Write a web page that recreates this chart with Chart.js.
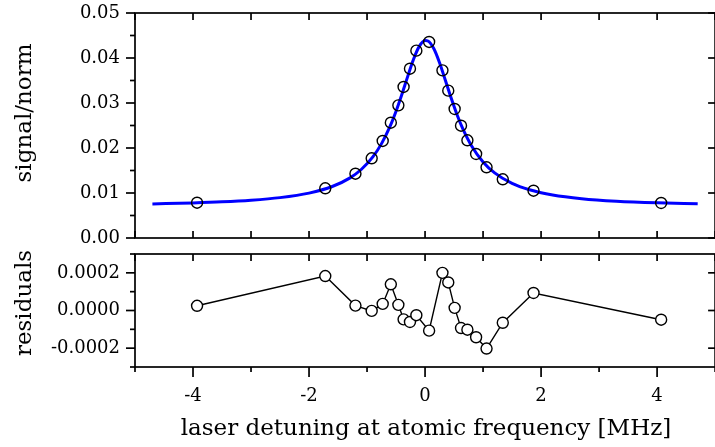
<!DOCTYPE html>
<html>
<head>
<meta charset="utf-8">
<script src="https://cdn.jsdelivr.net/npm/chart.js@4.4.1/dist/chart.umd.min.js"></script>
<style>
  html, body { margin: 0; padding: 0; background: #fff; overflow: hidden; width: 715px; height: 447px; }
  canvas { position: absolute; left: 0; }
  #topChart { top: 0; }
  #resChart { top: 246px; }
</style>
</head>
<body>
<canvas id="topChart" width="722" height="246"></canvas>
<canvas id="resChart" width="722" height="201"></canvas>
<script>
// measured points
const detuning = [-3.93, -1.72, -1.20, -0.92, -0.73, -0.59, -0.46, -0.37, -0.26, -0.15, 0.07,
  0.30, 0.40, 0.51, 0.62, 0.73, 0.88, 1.06, 1.34, 1.87, 4.07];
const signal = [0.00784, 0.01104, 0.01429, 0.01771, 0.02156, 0.02562, 0.02948, 0.03356, 0.03762, 0.04163, 0.04356,
  0.03726, 0.03274, 0.02867, 0.02496, 0.02171, 0.01867, 0.01571, 0.01304, 0.01051, 0.00778];
const residuals = [0.000025, 0.000183, 0.000026, -0.000002, 0.000035, 0.000139, 0.000030, -0.000047, -0.000061, -0.000025, -0.000107,
  0.000200, 0.000149, 0.000014, -0.000093, -0.000102, -0.000142, -0.000202, -0.000065, 0.000093, -0.000049];

// fit curve
const fitX = [-4.7, -4, -3.5, -3, -2.5, -2, -1.6, -1.3, -1.1, -0.9, -0.75, -0.6, -0.5, -0.4, -0.3, -0.2, -0.1, 0,
  0.05, 0.15, 0.25, 0.35, 0.45, 0.55, 0.65, 0.8, 1.0, 1.2, 1.5, 1.8, 2.2, 2.7, 3.3, 4, 4.7];
const fitY = [0.00758, 0.00780, 0.00803, 0.00839, 0.00897, 0.00998, 0.01144, 0.01331, 0.01522, 0.01803, 0.02097, 0.02490, 0.02816, 0.03188, 0.03586, 0.03966, 0.04258, 0.04388,
  0.04377, 0.04210, 0.03895, 0.03506, 0.03110, 0.02746, 0.02431, 0.02052, 0.01691, 0.01447, 0.01213, 0.01071, 0.00956, 0.00874, 0.00818, 0.00781, 0.00759];

// ticks
const xMajor = [-4, -2, 0, 2, 4];
const xMinor = [-5, -3, -1, 1, 3, 5];
const xTickLabels = ['-4', '-2', '0', '2', '4'];
const sigMajor = [0, 0.01, 0.02, 0.03, 0.04, 0.05];
const sigMinor = [0.005, 0.015, 0.025, 0.035, 0.045];
const sigTickLabels = ['0.00', '0.01', '0.02', '0.03', '0.04', '0.05'];
const resMajor = [-0.0002, 0, 0.0002];
const resMinor = [-0.0003, -0.0001, 0.0001, 0.0003];
const resTickLabels = ['-0.0002', '0.0000', '0.0002'];

Chart.defaults.font.family = "'DejaVu Serif', serif";
Chart.defaults.color = '#000';

const tickFont = { size: 18 };
const titleFont = "23px 'DejaVu Serif', serif";

// box, tick marks and axis titles
const frame = {
  id: 'frame',
  afterDraw(chart, args, o) {
    const { ctx, chartArea: a, scales } = chart;
    ctx.save();
    ctx.strokeStyle = '#000';
    ctx.lineWidth = 1.7;
    ctx.strokeRect(a.left, a.top, a.right - a.left, a.bottom - a.top);
    const line = (x1, y1, x2, y2) => {
      ctx.beginPath(); ctx.moveTo(x1, y1); ctx.lineTo(x2, y2); ctx.stroke();
    };
    o.yMajor.forEach(v => {
      const y = scales.y.getPixelForValue(v);
      line(a.left - 9, y, a.left, y);
      line(a.right - 7, y, a.right, y);
    });
    o.yMinor.forEach(v => {
      const y = scales.y.getPixelForValue(v);
      line(a.left - 5, y, a.left, y);
    });
    xMajor.concat(xMinor).forEach(v => {
      const x = scales.x.getPixelForValue(v);
      line(x, a.top, x, a.top + 7);
      if (o.bottomOut) line(x, a.bottom, x, a.bottom + (xMajor.includes(v) ? 10 : 5));
      else line(x, a.bottom - 7, x, a.bottom);
    });
    ctx.fillStyle = '#000';
    ctx.font = titleFont;
    ctx.textAlign = 'center';
    ctx.textBaseline = 'middle';
    o.titles.forEach(t => {
      ctx.save();
      ctx.translate(t.x, t.y);
      if (t.rotate) ctx.rotate(-Math.PI / 2);
      ctx.fillText(t.text, 0, 0);
      ctx.restore();
    });
    ctx.restore();
  }
};

const yAxis = (min, max, ticks, labels) => ({
  type: 'linear',
  min: min,
  max: max,
  afterBuildTicks: s => { s.ticks = ticks.map(v => ({ value: v })); },
  afterFit: s => { s.width = 135; s.paddingTop = 0; s.paddingBottom = 0; },
  ticks: { font: tickFont, padding: 15, callback: (v, i) => labels[i] },
  grid: { display: false, drawTicks: false },
  border: { display: false }
});

new Chart(document.getElementById('topChart'), {
  type: 'scatter',
  data: {
    datasets: [
      {
        data: detuning.map((x, i) => ({ x: x, y: signal[i] })),
        pointRadius: 5.5,
        pointBorderWidth: 1.4,
        pointBorderColor: '#000',
        pointBackgroundColor: 'rgba(0,0,0,0)'
      },
      {
        data: fitX.map((x, i) => ({ x: x, y: fitY[i] })),
        showLine: true,
        pointRadius: 0,
        borderColor: '#0000ff',
        borderWidth: 3,
        cubicInterpolationMode: 'monotone'
      }
    ]
  },
  options: {
    responsive: false,
    animation: false,
    layout: { padding: { top: 13, right: 1, bottom: 8, left: 0 } },
    plugins: {
      legend: { display: false },
      tooltip: { enabled: false },
      frame: {
        yMajor: sigMajor, yMinor: sigMinor, bottomOut: false,
        titles: [{ text: 'signal/norm', x: 25, y: 113, rotate: true }]
      }
    },
    scales: {
      x: { type: 'linear', min: -5, max: 5, display: false },
      y: yAxis(0, 0.05, sigMajor, sigTickLabels)
    }
  },
  plugins: [frame]
});

new Chart(document.getElementById('resChart'), {
  type: 'scatter',
  data: {
    datasets: [
      {
        data: detuning.map((x, i) => ({ x: x, y: residuals[i] })),
        showLine: true,
        borderColor: '#000',
        borderWidth: 1.4,
        pointRadius: 5.5,
        pointBorderWidth: 1.4,
        pointBorderColor: '#000',
        pointBackgroundColor: '#fff'
      }
    ]
  },
  options: {
    responsive: false,
    animation: false,
    layout: { padding: { top: 8, right: 1, bottom: 0, left: 0 } },
    plugins: {
      legend: { display: false },
      tooltip: { enabled: false },
      frame: {
        yMajor: resMajor, yMinor: resMinor, bottomOut: true,
        titles: [
          { text: 'residuals', x: 25, y: 57, rotate: true },
          { text: 'laser detuning at atomic frequency [MHz]', x: 426, y: 183, rotate: false }
        ]
      }
    },
    scales: {
      x: {
        type: 'linear',
        min: -5,
        max: 5,
        afterBuildTicks: s => { s.ticks = xMajor.map(v => ({ value: v })); },
        afterFit: s => { s.height = 80; s.paddingLeft = 0; s.paddingRight = 0; },
        ticks: { font: tickFont, padding: 19, maxRotation: 0, callback: (v, i) => xTickLabels[i] },
        grid: { display: false, drawTicks: false },
        border: { display: false }
      },
      y: yAxis(-0.0003, 0.0003, resMajor, resTickLabels)
    }
  },
  plugins: [frame]
});
</script>
</body>
</html>
